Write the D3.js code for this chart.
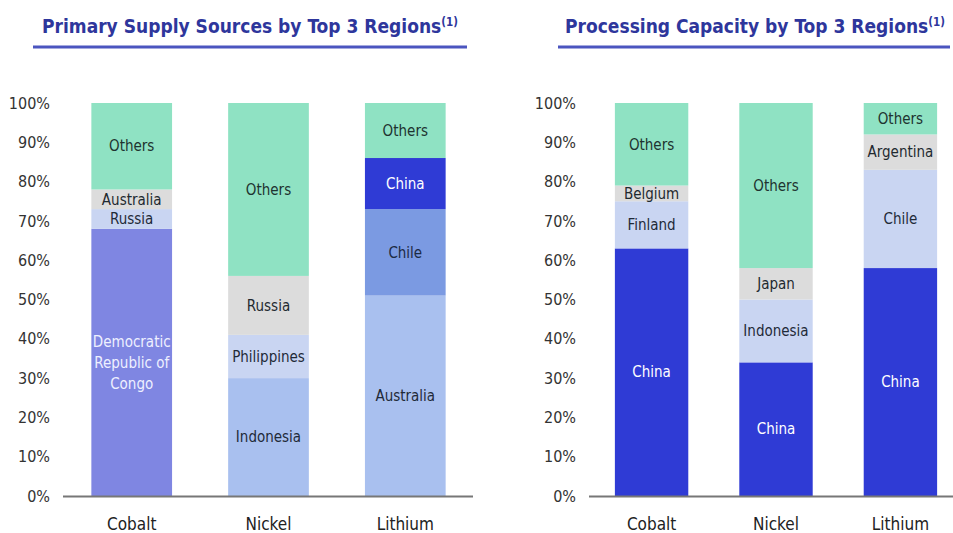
<!DOCTYPE html>
<html><head><meta charset="utf-8">
<script src="https://cdn.jsdelivr.net/npm/d3@7"></script>
<style>
body{margin:0;background:#fff;}
svg{display:block;font-family:"DejaVu Sans Condensed","Liberation Sans Narrow",sans-serif;}
</style></head>
<body><svg id="c" width="953" height="533"></svg>
<script>
const metals = ["Cobalt","Nickel","Lithium"];
const yTicks = [0,0.1,0.2,0.3,0.4,0.5,0.6,0.7,0.8,0.9,1.0];

// Primary supply (bottom to top)
const supplyCobalt = [["Democratic Republic of Congo",68,"drc"],["Russia",5,"pale"],["Australia",5,"gray"],["Others",22,"others"]];
const supplyNickel = [["Indonesia",30,"mid"],["Philippines",11,"pale"],["Russia",15,"gray"],["Others",44,"others"]];
const supplyLithium = [["Australia",51,"mid"],["Chile",22,"chileL"],["China",13,"china"],["Others",14,"others"]];

// Processing capacity (bottom to top)
const procCobalt = [["China",63,"china"],["Finland",12,"pale"],["Belgium",4,"gray"],["Others",21,"others"]];
const procNickel = [["China",34,"china"],["Indonesia",16,"pale"],["Japan",8,"gray"],["Others",42,"others"]];
const procLithium = [["China",58,"china"],["Chile",25,"pale"],["Argentina",9,"gray"],["Others",8,"others"]];

const colors = {others:"#8fe2c3",gray:"#dcdcdc",pale:"#c9d5f2",drc:"#7f86e2",mid:"#a9c0ef",chileL:"#7b9ae2",china:"#2f3bd5"};
const textColors = {others:"#1e3330",gray:"#1f2a30",pale:"#1f2a38",drc:"#eef0ff",mid:"#1f2a38",chileL:"#1c2a44",china:"#ffffff"};

const svg = d3.select("#c");

function drawPanel(cfg){
  const g = svg.append("g");
  const y = d3.scaleLinear().domain([0,1]).range([496,103]);
  const x = d3.scaleBand().domain(metals).range(cfg.xr).paddingInner(0.41).paddingOuter(0.2);
  // title
  const t = g.append("text").attr("x",cfg.tx).attr("y",33).attr("text-anchor","middle")
    .attr("font-size",19).attr("font-weight","bold").attr("fill","#2e369c");
  t.append("tspan").text(cfg.title);
  t.append("tspan").text("(1)").attr("font-size",11.5).attr("dy",-7);
  g.append("line").attr("x1",cfg.ul[0]).attr("x2",cfg.ul[1]).attr("y1",47).attr("y2",47)
    .attr("stroke","#4b55bf").attr("stroke-width",3);
  // y tick labels
  g.selectAll(".yt").data(yTicks).join("text")
    .attr("x",cfg.ylab).attr("y",d=>y(d)).attr("dy","0.35em").attr("text-anchor","end")
    .attr("font-size",16).attr("fill","#333").text(d=>d3.format(".0%")(d));
  // bars
  cfg.data.forEach((segs,i)=>{
    const m = metals[i];
    let acc = 0;
    const stacked = segs.map(s=>{const r={name:s[0],v0:acc/100,v1:(acc+s[1])/100,k:s[2]}; acc+=s[1]; return r;});
    const bg = g.append("g");
    bg.selectAll("rect").data(stacked).join("rect")
      .attr("x",x(m)).attr("width",x.bandwidth())
      .attr("y",d=>y(d.v1)).attr("height",d=>y(d.v0)-y(d.v1))
      .attr("fill",d=>colors[d.k]);
    stacked.forEach(d=>{
      const lines = d.name==="Democratic Republic of Congo" ? ["Democratic","Republic of","Congo"] : [d.name];
      const cy = (y(d.v0)+y(d.v1))/2;
      const lh = 21;
      const tx = bg.append("text").attr("x",x(m)+x.bandwidth()/2).attr("text-anchor","middle")
        .attr("font-size",15).attr("fill",textColors[d.k]);
      lines.forEach((ln,j)=>{
        tx.append("tspan").attr("x",x(m)+x.bandwidth()/2)
          .attr("y",cy+(j-(lines.length-1)/2)*lh).attr("dy","0.35em").text(ln);
      });
    });
    g.append("text").attr("x",x(m)+x.bandwidth()/2).attr("y",524).attr("dy","0.35em")
      .attr("text-anchor","middle").attr("font-size",17).attr("fill","#222").text(m);
  });
  g.append("line").attr("x1",cfg.axis[0]).attr("x2",cfg.axis[1]).attr("y1",496.5).attr("y2",496.5)
    .attr("stroke","#777").attr("stroke-width",2);
}

drawPanel({title:"Primary Supply Sources by Top 3 Regions", tx:250, ul:[33,467], ylab:50,
  xr:[64,473], axis:[63,473], data:[supplyCobalt,supplyNickel,supplyLithium]});
drawPanel({title:"Processing Capacity by Top 3 Regions", tx:755, ul:[558,950], ylab:576,
  xr:[590,962], axis:[589,953], data:[procCobalt,procNickel,procLithium]});
</script></body></html>
